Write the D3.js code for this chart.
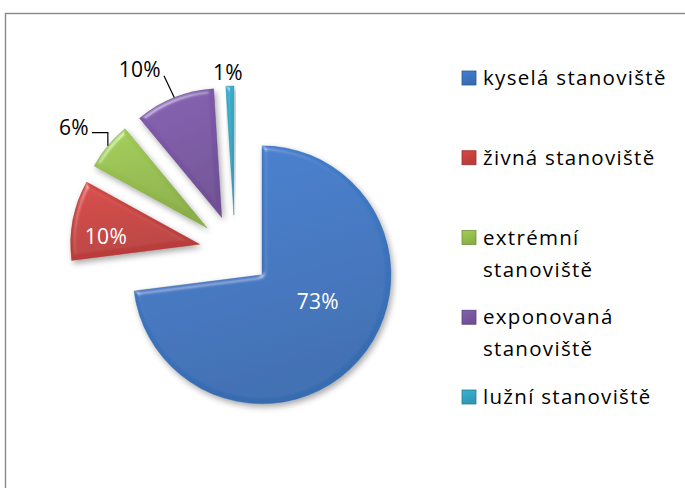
<!DOCTYPE html>
<meta charset="utf-8">
<style>
  body { margin: 0; background: #fff; }
  svg { display: block; }
  .label { font-family: "Open Sans", sans-serif; font-size: 21px; letter-spacing: 0.3px; }
  .legend text { font-family: "Open Sans", sans-serif; font-size: 20.5px; letter-spacing: 1.3px; fill: #000; }
  .leader { fill: none; stroke: #000; stroke-width: 1.2px; }
</style>
<body>
<script src="https://d3js.org/d3.v7.min.js"></script>
<script>

// data
var categories = ["kyselá stanoviště", "živná stanoviště", "extrémní stanoviště", "exponovaná stanoviště", "lužní stanoviště"];
var values = [73, 10, 6, 10, 1];
var legendLines = [["kyselá stanoviště"], ["živná stanoviště"], ["extrémní", "stanoviště"], ["exponovaná", "stanoviště"], ["lužní stanoviště"]];
var colors = ["#3d76c2", "#c8423f", "#97bf4f", "#7a57a4", "#35a6c4"];

// label placement (polar from each slice's own centre, degrees clockwise from top)
var labelAngle = [115.7, 274.5, 307, 331, 357.6];
var labelDist  = [62, 94, 167, 169, 143];
var labelInside = [true, true, false, false, false];
var leaderType = [null, null, "elbow", "straight", null];

var width = 685, height = 488;
var cx = 235, cy = 251, radius = 129, explode = 36;

var svg = d3.select("body").append("svg")
    .attr("width", width).attr("height", height);

var defs = svg.append("defs");

// bevel + shadow filter, a rough take on the Office look
var f = defs.append("filter").attr("id", "bevel")
    .attr("x", "-20%").attr("y", "-20%").attr("width", "140%").attr("height", "140%");
f.append("feGaussianBlur").attr("in", "SourceAlpha").attr("stdDeviation", 2.5).attr("result", "b");
var spec = f.append("feSpecularLighting").attr("in", "b").attr("surfaceScale", 3)
    .attr("specularConstant", 0.8).attr("specularExponent", 30)
    .attr("lighting-color", "#fff").attr("result", "s");
spec.append("feDistantLight").attr("azimuth", 235).attr("elevation", 40);
f.append("feComposite").attr("in", "s").attr("in2", "SourceAlpha").attr("operator", "in").attr("result", "s2");
f.append("feComposite").attr("in", "SourceGraphic").attr("in2", "s2").attr("operator", "arithmetic")
    .attr("k1", 0).attr("k2", 1).attr("k3", 0.4).attr("k4", 0).attr("result", "lit");
f.append("feGaussianBlur").attr("in", "SourceAlpha").attr("stdDeviation", 3).attr("result", "sb");
f.append("feOffset").attr("in", "sb").attr("dx", 2).attr("dy", 3).attr("result", "so");
f.append("feComponentTransfer").attr("in", "so").attr("result", "sh")
  .append("feFuncA").attr("type", "linear").attr("slope", 0.35);
var merge = f.append("feMerge");
merge.append("feMergeNode").attr("in", "sh");
merge.append("feMergeNode").attr("in", "lit");

colors.forEach(function(c, i) {
    var g = defs.append("linearGradient").attr("id", "grad" + i)
        .attr("x1", 0).attr("y1", 0).attr("x2", 0.3).attr("y2", 1);
    g.append("stop").attr("offset", "0%").attr("stop-color", d3.color(c).brighter(0.2));
    g.append("stop").attr("offset", "100%").attr("stop-color", d3.color(c).darker(0.25));
});

// chart frame
svg.append("rect")
    .attr("x", 5.5).attr("y", 13.5)
    .attr("width", 700).attr("height", 500)
    .attr("fill", "#fff").attr("stroke", "#888").attr("stroke-width", 1.4);

var pie = d3.pie().sort(null).value(function(d) { return d; });
var arcs = pie(values);
var total = d3.sum(values);
var arc = d3.arc().innerRadius(0).outerRadius(radius);
var rad = Math.PI / 180;

function sliceCentre(d) {
    var mid = (d.startAngle + d.endAngle) / 2;
    return [cx + explode * Math.sin(mid), cy - explode * Math.cos(mid)];
}

var slices = svg.append("g").attr("class", "slices")
    .selectAll("g")
    .data(arcs)
    .enter().append("g")
    .attr("transform", function(d) { var c = sliceCentre(d); return "translate(" + c[0] + "," + c[1] + ")"; });

slices.append("path")
    .attr("d", arc)
    .attr("fill", function(d, i) { return "url(#grad" + i + ")"; })
    .attr("stroke", function(d, i) { return d3.color(colors[i]).darker(0.6); })
    .attr("stroke-opacity", 0.5)
    .attr("stroke-width", 0.8)
    .attr("filter", "url(#bevel)");

// data labels
var labels = svg.append("g").attr("class", "labels");
arcs.forEach(function(d, i) {
    var c = sliceCentre(d);
    var a = labelAngle[i] * rad;
    var lx = c[0] + labelDist[i] * Math.sin(a);
    var ly = c[1] - labelDist[i] * Math.cos(a);
    var t = labels.append("text")
        .attr("class", "label")
        .attr("x", lx).attr("y", ly)
        .attr("dy", "0.36em")
        .attr("text-anchor", "middle")
        .attr("fill", labelInside[i] ? "#fff" : "#000")
        .text(d3.format(".0%")(d.value / total));

    if (!leaderType[i]) return;
    var mid = (d.startAngle + d.endAngle) / 2;
    var px = c[0] + radius * Math.sin(mid), py = c[1] - radius * Math.cos(mid);
    var bb = t.node().getBBox();
    if (leaderType[i] === "elbow") {
        var ey = ly + 5;
        labels.append("path").attr("class", "leader")
            .attr("d", "M" + (bb.x + bb.width + 3) + "," + ey + "H" + px + "V" + py);
    } else {
        labels.append("path").attr("class", "leader")
            .attr("d", "M" + (bb.x + bb.width + 3) + "," + (ly + 6) + "L" + px + "," + py);
    }
});

// legend
var legendX = 462, legendTop = 85, legendStep = 79.75, lineH = 32, box = 14;
var legend = svg.append("g").attr("class", "legend")
    .selectAll("g")
    .data(categories)
    .enter().append("g")
    .attr("transform", function(d, i) { return "translate(" + legendX + "," + (legendTop + i * legendStep) + ")"; });

legend.append("rect")
    .attr("x", 0).attr("y", -14)
    .attr("width", box).attr("height", box)
    .attr("fill", function(d, i) { return "url(#grad" + i + ")"; })
    .attr("stroke", function(d, i) { return d3.color(colors[i]).darker(0.8); })
    .attr("stroke-width", 0.8);

legend.append("text")
    .attr("x", 21)
    .selectAll("tspan")
    .data(function(d, i) { return legendLines[i]; })
    .enter().append("tspan")
    .attr("x", 21)
    .attr("y", function(d, j) { return j * lineH; })
    .text(function(d) { return d; });

</script>
</body>
